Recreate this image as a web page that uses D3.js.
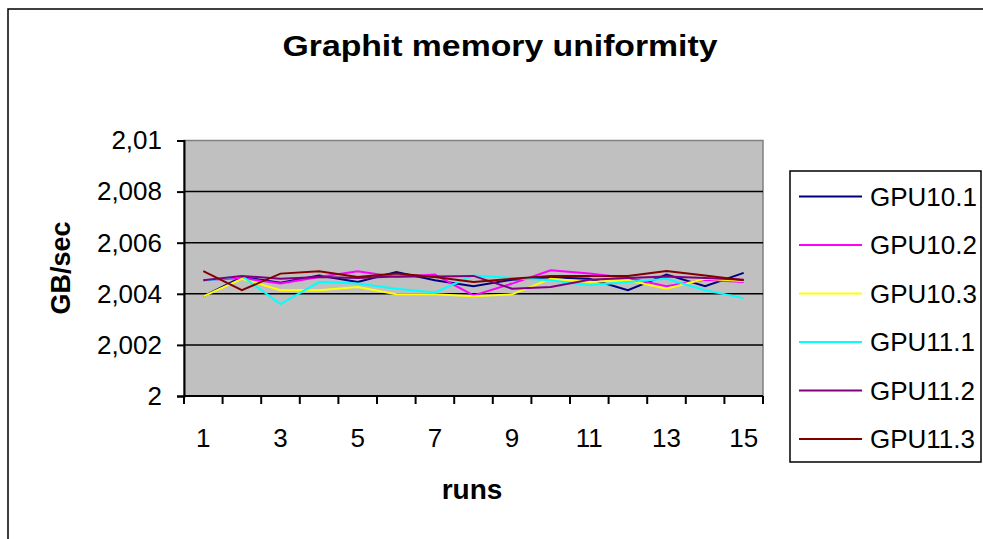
<!DOCTYPE html>
<html>
<head>
<meta charset="utf-8">
<script src="https://cdn.jsdelivr.net/npm/d3@7"></script>
<style>
  body { margin: 0; background: #fff; }
  text { font-family: "Liberation Sans", Arial, sans-serif; }
</style>
</head>
<body>
<svg id="chart" width="983" height="539"></svg>
<script>
const runs = d3.range(1, 16);
const seriesNames = ["GPU10.1", "GPU10.2", "GPU10.3", "GPU11.1", "GPU11.2", "GPU11.3"];
const seriesColors = ["#000080", "#ff00ff", "#ffff00", "#00ffff", "#800080", "#800000"];

const gpu10_1 = [2.0039, 2.00466, 2.00443, 2.00472, 2.00446, 2.00485, 2.00453, 2.0043, 2.00455, 2.00465, 2.00459, 2.00414, 2.00475, 2.0043, 2.00482];
const gpu10_2 = [2.00453, 2.00462, 2.0044, 2.00466, 2.00488, 2.00466, 2.00475, 2.00394, 2.0044, 2.00492, 2.00479, 2.00462, 2.0043, 2.00455, 2.00446];
const gpu10_3 = [2.0039, 2.00459, 2.00414, 2.00414, 2.00427, 2.00398, 2.00398, 2.0039, 2.00398, 2.00459, 2.00446, 2.00453, 2.0042, 2.00459, 2.0045];
const gpu11_1 = [2.0045, 2.0047, 2.0036, 2.00446, 2.0044, 2.0042, 2.00405, 2.00472, 2.00462, 2.00453, 2.00433, 2.00446, 2.00459, 2.00414, 2.00383];
const gpu11_2 = [2.00453, 2.0047, 2.00459, 2.00466, 2.00462, 2.00468, 2.00468, 2.0047, 2.0042, 2.00427, 2.00455, 2.00462, 2.00468, 2.00462, 2.00455];
const gpu11_3 = [2.00489, 2.00414, 2.00479, 2.00488, 2.00466, 2.00479, 2.00466, 2.00446, 2.00459, 2.0047, 2.0047, 2.0047, 2.00489, 2.00472, 2.00453];

const yTicks = [2, 2.002, 2.004, 2.006, 2.008, 2.01];
const xLabels = [1, 3, 5, 7, 9, 11, 13, 15];

const allSeries = [gpu10_1, gpu10_2, gpu10_3, gpu11_1, gpu11_2, gpu11_3];

const svg = d3.select("#chart");

// chart frame
svg.append("rect")
    .attr("x", 8).attr("y", 9)
    .attr("width", 990).attr("height", 540)
    .attr("fill", "none").attr("stroke", "#000").attr("stroke-width", 1.5);

// plot area
const plot = { left: 184, top: 140.5, right: 763, bottom: 396 };

const x = d3.scaleBand().domain(runs).range([plot.left, plot.right]);
const y = d3.scaleLinear().domain([2, 2.01]).range([plot.bottom, plot.top]);

svg.append("rect")
    .attr("x", plot.left).attr("y", plot.top)
    .attr("width", plot.right - plot.left).attr("height", plot.bottom - plot.top)
    .attr("fill", "#c0c0c0").attr("stroke", "#808080").attr("stroke-width", 1.5);

// gridlines
svg.append("g").selectAll("line")
    .data(yTicks.slice(1, -1))
    .enter().append("line")
    .attr("x1", plot.left).attr("x2", plot.right)
    .attr("y1", d => y(d)).attr("y2", d => y(d))
    .attr("stroke", "#000").attr("stroke-width", 1.5);

// y axis
const fmt = d => String(+d.toFixed(3)).replace(".", ",");
const yAxis = svg.append("g")
    .attr("transform", "translate(" + plot.left + ",0)")
    .call(d3.axisLeft(y).tickValues(yTicks).tickSize(7).tickPadding(15).tickFormat(fmt));
yAxis.select(".domain").attr("stroke", "#000").attr("stroke-width", 2);
yAxis.selectAll(".tick line").attr("stroke-width", 2);
yAxis.selectAll("text").style("font-size", "26px").attr("fill", "#000");

// x axis (ticks between categories)
const xAxis = svg.append("g")
    .attr("transform", "translate(0," + plot.bottom + ")");
xAxis.append("line")
    .attr("x1", plot.left).attr("x2", plot.right)
    .attr("stroke", "#000").attr("stroke-width", 2);
xAxis.selectAll(".tk")
    .data(runs.concat([16]))
    .enter().append("line")
    .attr("x1", d => d <= 15 ? x(d) : plot.right)
    .attr("x2", d => d <= 15 ? x(d) : plot.right)
    .attr("y1", 0).attr("y2", 8)
    .attr("stroke", "#000").attr("stroke-width", 2);
xAxis.selectAll(".lbl")
    .data(xLabels)
    .enter().append("text")
    .attr("x", d => x(d) + x.bandwidth() / 2)
    .attr("y", 51)
    .attr("text-anchor", "middle")
    .style("font-size", "26px")
    .text(d => d);

// lines
const line = d3.line()
    .x((d, i) => x(runs[i]) + x.bandwidth() / 2)
    .y(d => y(d));

svg.append("g").selectAll("path")
    .data(allSeries)
    .enter().append("path")
    .attr("d", d => line(d))
    .attr("fill", "none")
    .attr("stroke", (d, i) => seriesColors[i])
    .attr("stroke-width", 2);

// title and axis titles
svg.append("text")
    .attr("x", 500).attr("y", 56)
    .attr("text-anchor", "middle")
    .attr("textLength", 435)
    .attr("lengthAdjust", "spacingAndGlyphs")
    .style("font-size", "29px").style("font-weight", "bold")
    .text("Graphit memory uniformity");

svg.append("text")
    .attr("transform", "translate(70,268) rotate(-90)")
    .attr("text-anchor", "middle")
    .style("font-size", "27px").style("font-weight", "bold")
    .text("GB/sec");

svg.append("text")
    .attr("x", 472).attr("y", 499)
    .attr("text-anchor", "middle")
    .style("font-size", "28px").style("font-weight", "bold")
    .text("runs");

// legend
const legend = svg.append("g");
legend.append("rect")
    .attr("x", 790).attr("y", 171)
    .attr("width", 191).attr("height", 291)
    .attr("fill", "#fff").attr("stroke", "#000").attr("stroke-width", 1.5);

const item = legend.selectAll(".item")
    .data(seriesNames)
    .enter().append("g")
    .attr("transform", (d, i) => "translate(0," + (196.5 + i * 48.5) + ")");
item.append("line")
    .attr("x1", 799).attr("x2", 862)
    .attr("stroke", (d, i) => seriesColors[i]).attr("stroke-width", 2);
item.append("text")
    .attr("x", 870).attr("y", 9)
    .style("font-size", "26px")
    .text(d => d);
</script>
</body>
</html>
